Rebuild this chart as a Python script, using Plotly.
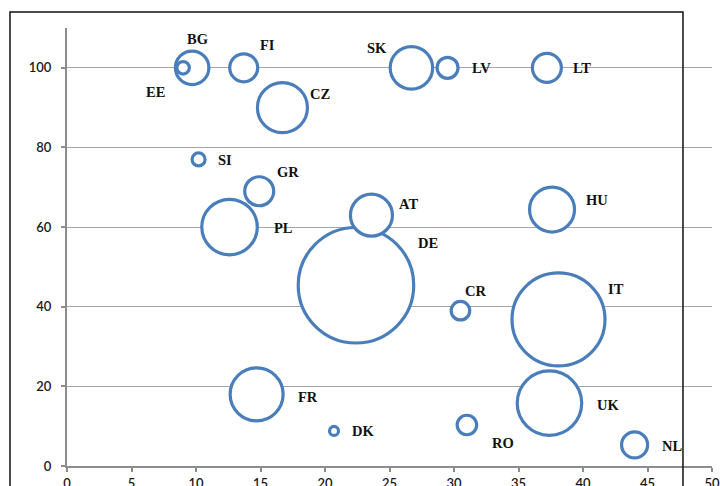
import plotly.graph_objects as go

# ---- data ----
countries = ["EE", "BG", "FI", "CZ", "SI", "GR", "PL", "SK", "LV", "LT",
             "HU", "AT", "DE", "CR", "IT", "UK", "RO", "NL", "FR", "DK"]
x_vals = [9.0, 9.7, 13.7, 16.7, 10.2, 14.9, 12.6, 26.7, 29.5, 37.2,
          37.6, 23.6, 22.4, 30.5, 38.1, 37.4, 31.0, 44.0, 14.7, 20.7]
y_vals = [100, 100, 100, 90, 77, 69, 60, 100, 100, 100,
          64.4, 63, 45.4, 39, 36.8, 15.8, 10.3, 5.3, 18, 8.8]
bubble = [12.5, 33.5, 28, 50, 13, 29, 55.5, 42.5, 21, 29,
          45, 42, 115.5, 18.5, 93, 64.5, 19.5, 26, 53, 9]

x_ticks = [0, 5, 10, 15, 20, 25, 30, 35, 40, 45, 50]
y_ticks = [0, 20, 40, 60, 80, 100]

# label offsets in pixels (style, not data)
label_dx = [-28, 5, 24, 38, 26, 29, 54, -34, 34, 35,
            45, 37, 72, 15, 58, 59, 36, 37, 51, 29]
label_dy = [-24, 29, 23, 14, -1, 19, -1, 20, 0, 0,
            10, 11, 42, 20, 30, -2, -18, -1, -3, 0]

BLUE = "#4a7ebb"
AXIS = "#8c8c8c"
GRID = "#a6a6a6"

# draw largest bubbles first so smaller ones sit on top
order = sorted(range(len(countries)), key=lambda i: -bubble[i])

fig = go.Figure()
fig.add_trace(go.Scatter(
    x=[x_vals[i] for i in order],
    y=[y_vals[i] for i in order],
    mode="markers",
    marker=dict(size=[bubble[i] for i in order], sizemode="diameter",
                opacity=1, color="white", line=dict(color=BLUE, width=3.2)),
    text=[countries[i] for i in order],
    hoverinfo="text",
    cliponaxis=False,
    showlegend=False,
))

for i, c in enumerate(countries):
    fig.add_annotation(
        x=x_vals[i], y=y_vals[i], xref="x", yref="y", text=c,
        showarrow=False, xshift=label_dx[i], yshift=label_dy[i],
        font=dict(family="Liberation Serif", size=14.5, color="#111111",
                  weight=600),
    )

# outer chart-area border (as in the reference screenshot)
fig.add_shape(type="rect", xref="paper", yref="paper",
              x0=-0.0884, x1=0.955, y0=-0.3, y1=1.0365,
              line=dict(color="#111111", width=1.5), layer="above")

tickfont = dict(family="Lato", size=13, color="#1a1a1a", weight=600)

fig.update_layout(
    width=720, height=486,
    margin=dict(l=67, r=8, t=28, b=20, autoexpand=False),
    plot_bgcolor="white", paper_bgcolor="white",
    font=dict(family="Lato", size=12, color="#222222"),
    xaxis=dict(range=[0, 50], tickvals=x_ticks, showgrid=False, zeroline=False,
               showline=True, linecolor=AXIS, linewidth=2, automargin=False,
               ticks="outside", ticklen=4, tickcolor=AXIS, tickwidth=1.5,
               tickfont=tickfont),
    yaxis=dict(range=[0, 110], tickvals=y_ticks, showgrid=True,
               gridcolor=GRID, gridwidth=1, zeroline=False,
               showline=True, linecolor=AXIS, linewidth=2, automargin=False,
               ticks="outside", ticklen=4, tickcolor=AXIS, tickwidth=1.5,
               ticklabelstandoff=7,
               tickfont=tickfont),
)

fig.write_html("out.html",
               config={"displayModeBar": False},
               post_script="document.body.style.margin='0';"
                           "document.body.style.overflow='hidden';")
